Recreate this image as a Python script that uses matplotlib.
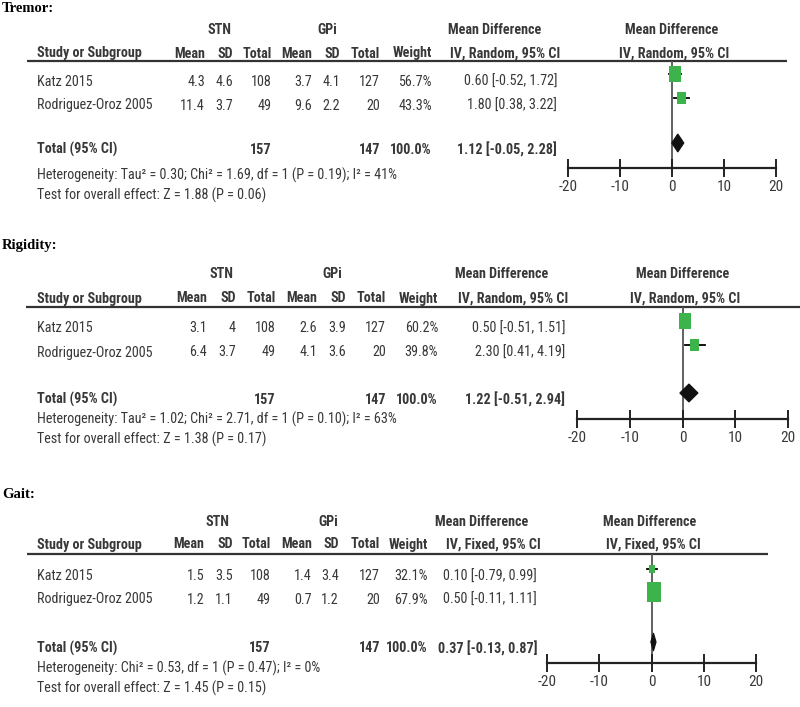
import matplotlib
matplotlib.use('Agg')
import matplotlib.pyplot as plt
from matplotlib.patches import Rectangle, Polygon
from matplotlib import font_manager

names = {f.name for f in font_manager.fontManager.ttflist}
SANS = 'Liberation Sans'
for cand in ['Liberation Sans Narrow', 'Arial Narrow', 'Roboto Condensed']:
    if cand in names:
        SANS = cand
        break
SERIF = 'Liberation Serif'

studies = ['Katz 2015', 'Rodriguez-Oroz 2005']
stn_total = [108, 49]
gpi_total = [127, 20]
stn_sum, gpi_sum = 157, 147

# Tremor
tremor_stn_mean = [4.3, 11.4]
tremor_stn_sd = [4.6, 3.7]
tremor_gpi_mean = [3.7, 9.6]
tremor_gpi_sd = [4.1, 2.2]
tremor_weight = [56.7, 43.3]
tremor_md = [0.60, 1.80]
tremor_lo = [-0.52, 0.38]
tremor_hi = [1.72, 3.22]
tremor_total = (1.12, -0.05, 2.28)

# Rigidity
rigid_stn_mean = [3.1, 6.4]
rigid_stn_sd = [4, 3.7]
rigid_gpi_mean = [2.6, 4.1]
rigid_gpi_sd = [3.9, 3.6]
rigid_weight = [60.2, 39.8]
rigid_md = [0.50, 2.30]
rigid_lo = [-0.51, 0.41]
rigid_hi = [1.51, 4.19]
rigid_total = (1.22, -0.51, 2.94)

# Gait
gait_stn_mean = [1.5, 1.2]
gait_stn_sd = [3.5, 1.1]
gait_gpi_mean = [1.4, 0.7]
gait_gpi_sd = [3.4, 1.2]
gait_weight = [32.1, 67.9]
gait_md = [0.10, 0.50]
gait_lo = [-0.79, -0.11]
gait_hi = [0.99, 1.11]
gait_total = (0.37, -0.13, 0.87)

ticks = [-20, -10, 0, 10, 20]

panels = [
    dict(title='Tremor:', method='IV, Random, 95% CI',
         stn_mean=tremor_stn_mean, stn_sd=tremor_stn_sd,
         gpi_mean=tremor_gpi_mean, gpi_sd=tremor_gpi_sd,
         weight=tremor_weight, md=tremor_md, lo=tremor_lo, hi=tremor_hi,
         total=tremor_total,
         het='Heterogeneity: Tau² = 0.30; Chi² = 1.69, df = 1 (P = 0.19); I² = 41%',
         test='Test for overall effect: Z = 1.88 (P = 0.06)',
         # layout in pixels
         title_y=7, group_y=28, head_y=52, line_y=61, rows=[80, 104], total_y=148,
         het_y=174, test_y=194, cols=[205, 233, 272, 312, 340, 380, 432], ci_r=557,
         stn_c=219, gpi_c=327, md_c=495, iv_c=505, px0=568, px1=776, axis_y=168,
         line_x0=27, line_x1=787, rmd_c=672, riv_c=674),
    dict(title='Rigidity:', method='IV, Random, 95% CI',
         stn_mean=rigid_stn_mean, stn_sd=rigid_stn_sd,
         gpi_mean=rigid_gpi_mean, gpi_sd=rigid_gpi_sd,
         weight=rigid_weight, md=rigid_md, lo=rigid_lo, hi=rigid_hi,
         total=rigid_total,
         het='Heterogeneity: Tau² = 1.02; Chi² = 2.71, df = 1 (P = 0.10); I² = 63%',
         test='Test for overall effect: Z = 1.38 (P = 0.17)',
         title_y=245, group_y=272, head_y=297, line_y=307, rows=[327, 351], total_y=398,
         het_y=418, test_y=438, cols=[207, 236, 276, 317, 346, 386, 438], ci_r=565,
         stn_c=222, gpi_c=332, md_c=502, iv_c=513, px0=577, px1=788, axis_y=419,
         line_x0=26, line_x1=800, rmd_c=683, riv_c=685),
    dict(title='Gait:', method='IV, Fixed, 95% CI',
         stn_mean=gait_stn_mean, stn_sd=gait_stn_sd,
         gpi_mean=gait_gpi_mean, gpi_sd=gait_gpi_sd,
         weight=gait_weight, md=gait_md, lo=gait_lo, hi=gait_hi,
         total=gait_total,
         het='Heterogeneity: Chi² = 0.53, df = 1 (P = 0.47); I² = 0%',
         test='Test for overall effect: Z = 1.45 (P = 0.15)',
         title_y=493, group_y=520, head_y=543, line_y=554, rows=[575, 598], total_y=647,
         het_y=667, test_y=687, cols=[204, 233, 271, 312, 339, 380, 428], ci_r=537,
         stn_c=218, gpi_c=328, md_c=482, iv_c=493, px0=547, px1=756, axis_y=663,
         line_x0=27, line_x1=768, rmd_c=650, riv_c=653),
]

W, H = 800, 707
fig = plt.figure(figsize=(W / 100, H / 100), dpi=100)
fig.patch.set_facecolor('white')
ax = fig.add_axes([0, 0, 1, 1])
ax.set_xlim(0, W)
ax.set_ylim(H, 0)
ax.axis('off')

TXT = '#383838'
FS = 9.4 if SANS == 'Liberation Sans' else 10.2


def put(x, y, s, ha='left', bold=False, color=TXT):
    ax.text(x, y + 1.5, s, ha=ha, va='center', fontsize=FS, family=SANS,
            fontweight='bold' if bold else 'normal', color=color)


for p in panels:
    ax.text(2, p['title_y'] + 1, p['title'], ha='left', va='center', fontsize=10.5,
            family=SERIF, fontweight='bold', color='black')
    c = p['cols']
    put(p['stn_c'], p['group_y'], 'STN', ha='center', bold=True)
    put(p['gpi_c'], p['group_y'], 'GPi', ha='center', bold=True)
    put(p['md_c'], p['group_y'], 'Mean Difference', ha='center', bold=True)
    put(p['rmd_c'], p['group_y'], 'Mean Difference', ha='center', bold=True)
    put(37, p['head_y'], 'Study or Subgroup', bold=True)
    for x, lab in zip(c, ['Mean', 'SD', 'Total', 'Mean', 'SD', 'Total', 'Weight']):
        put(x, p['head_y'], lab, ha='right', bold=True)
    put(p['iv_c'], p['head_y'], p['method'], ha='center', bold=True)
    put(p['riv_c'], p['head_y'], p['method'], ha='center', bold=True)
    ax.plot([p['line_x0'], p['line_x1']], [p['line_y'], p['line_y']],
            color='#333333', lw=1.6, solid_capstyle='butt')

    for i, name in enumerate(studies):
        y = p['rows'][i]
        put(37, y, name)
        vals = [f"{p['stn_mean'][i]:g}", f"{p['stn_sd'][i]:g}", f"{stn_total[i]}",
                f"{p['gpi_mean'][i]:g}", f"{p['gpi_sd'][i]:g}", f"{gpi_total[i]}",
                f"{p['weight'][i]:.1f}%"]
        for x, v in zip(c, vals):
            put(x, y, v, ha='right')
        put(p['ci_r'], y, f"{p['md'][i]:.2f} [{p['lo'][i]:.2f}, {p['hi'][i]:.2f}]", ha='right')

    ty = p['total_y']
    tmd, tlo, thi = p['total']
    put(37, ty, 'Total (95% CI)', bold=True)
    put(c[2], ty, f'{stn_sum}', ha='right', bold=True)
    put(c[5], ty, f'{gpi_sum}', ha='right', bold=True)
    put(c[6], ty, '100.0%', ha='right', bold=True)
    put(p['ci_r'], ty, f'{tmd:.2f} [{tlo:.2f}, {thi:.2f}]', ha='right', bold=True)
    put(37, p['het_y'], p['het'])
    put(37, p['test_y'], p['test'])

    # forest plot axes, y in pixel units
    x0, x1 = p['px0'], p['px1']
    fa = fig.add_axes([x0 / W, 1 - p['axis_y'] / H, (x1 - x0) / W,
                       (p['axis_y'] - p['line_y']) / H])
    fa.set_xlim(-20, 20)
    fa.set_ylim(p['axis_y'], p['line_y'])
    fa.patch.set_alpha(0)
    for s in ['top', 'left', 'right']:
        fa.spines[s].set_visible(False)
    fa.spines['bottom'].set_color('#222222')
    fa.spines['bottom'].set_linewidth(1.6)
    fa.set_yticks([])
    fa.set_xticks(ticks)
    fa.set_xticklabels([f'{t}' for t in ticks], family=SANS, fontsize=FS + 0.8, color=TXT)
    fa.tick_params(axis='x', direction='inout', length=13, width=1.4,
                   color='#222222', pad=2)
    fa.axvline(0, color='#555555', lw=1.3, zorder=1)

    ppu = (x1 - x0) / 40.0  # pixels per unit
    for i in range(len(studies)):
        y = p['rows'][i] - 6
        fa.plot([p['lo'][i], p['hi'][i]], [y, y], color='black', lw=1.3, zorder=2)
        wpx = 0.21 * p['weight'][i]
        hpx = 0.28 * p['weight'][i]
        fa.add_patch(Rectangle((p['md'][i] - wpx / ppu / 2, y - hpx / 2), wpx / ppu, hpx,
                               facecolor='#3cb44b', edgecolor='none', zorder=3))
    dy = ty - 5
    fa.add_patch(Polygon([(tlo, dy), (tmd, dy - 9), (thi, dy), (tmd, dy + 9)],
                         closed=True, facecolor='#111111', edgecolor='#111111',
                         lw=0.8, zorder=3))

fig.savefig('out.png', dpi=100, facecolor='white')
